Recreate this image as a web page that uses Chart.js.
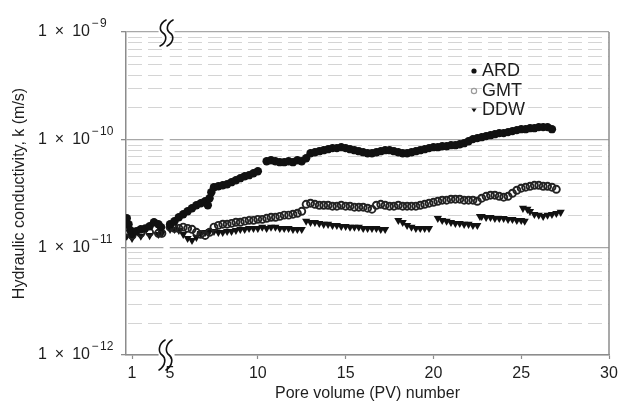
<!DOCTYPE html>
<html><head><meta charset="utf-8">
<script src="https://cdn.jsdelivr.net/npm/chart.js@4/dist/chart.umd.min.js"></script>
<style>html,body{margin:0;padding:0;background:#fff;}canvas{display:block;}</style>
</head><body>
<canvas id="c" width="619" height="403"></canvas>
<script>
// Pore volume (PV) number and hydraulic conductivity k (in units of 1e-11 m/s)
const ardPV = [0.7,0.8,0.9,1.0,1.25,1.5,1.75,2.0,2.25,2.5,2.65,
  5.0,5.25,5.5,5.75,6.0,6.25,6.5,6.75,7.0,7.15,7.25,7.35,7.5,7.75,8.0,8.25,8.5,8.75,9.0,9.25,9.5,9.75,10.0,
  10.5,10.75,11.0,11.25,11.5,11.75,12.0,12.25,12.5,12.75,
  13.0,13.25,13.5,13.75,14.0,14.25,14.5,14.75,15.0,15.25,15.5,15.75,16.0,16.25,16.5,16.75,17.0,17.25,17.5,17.75,
  18.0,18.25,18.5,18.75,19.0,19.25,19.5,19.75,20.0,20.25,20.5,20.75,21.0,21.25,21.5,21.75,22.0,22.25,22.5,22.75,
  23.0,23.25,23.5,23.75,24.0,24.25,24.5,24.75,25.0,25.25,25.5,25.75,26.0,26.25,26.5,26.75];
const ardK = [1.86,1.64,1.44,1.35,1.41,1.47,1.50,1.57,1.71,1.64,1.54,
  1.64,1.75,1.90,2.03,2.16,2.31,2.46,2.57,2.68,2.46,2.86,3.25,3.62,3.69,3.77,3.86,4.03,4.20,4.39,4.58,4.68,4.88,5.09,
  6.31,6.45,6.31,6.18,6.18,6.31,6.18,6.45,6.31,6.73,
  7.49,7.65,7.82,7.99,8.16,8.34,8.34,8.52,8.34,8.16,7.99,7.82,7.65,7.49,7.49,7.65,7.82,7.99,7.99,7.82,
  7.65,7.49,7.49,7.65,7.82,7.99,8.16,8.34,8.52,8.52,8.70,8.70,8.89,8.89,9.08,9.28,9.68,10.11,10.33,10.55,
  10.78,11.01,11.25,11.50,11.50,11.75,12.00,12.26,12.52,12.52,12.79,12.79,13.07,13.07,13.07,12.52];

const gmtPV = [0.7,1.0,1.5,2.0,2.5,2.7,
  5.0,5.25,5.5,5.75,6.0,6.25,6.5,6.75,7.0,7.25,7.5,7.75,8.0,8.25,8.5,8.75,9.0,9.25,9.5,9.75,10.0,10.25,10.5,10.75,
  11.0,11.25,11.5,11.75,12.0,12.25,12.5,12.75,13.0,13.25,13.5,13.75,14.0,14.25,14.5,14.75,15.0,15.25,15.5,15.75,
  16.0,16.25,16.5,16.75,17.0,17.25,17.5,17.75,18.0,18.25,18.5,18.75,19.0,19.25,19.5,19.75,20.0,20.25,20.5,20.75,
  21.0,21.25,21.5,21.75,22.0,22.25,22.5,22.75,23.0,23.25,23.5,23.75,24.0,24.25,24.5,24.75,25.0,25.25,25.5,25.75,
  26.0,26.25,26.5,26.75,27.0];
const gmtK = [1.41,1.29,1.35,1.38,1.35,1.35,
  1.54,1.50,1.50,1.54,1.50,1.47,1.38,1.32,1.29,1.38,1.54,1.60,1.64,1.64,1.67,1.71,1.71,1.75,1.78,1.78,1.82,1.82,1.86,1.90,
  1.90,1.94,1.99,1.99,2.03,2.07,2.16,2.51,2.57,2.51,2.46,2.46,2.46,2.41,2.41,2.46,2.41,2.41,2.36,2.36,
  2.36,2.31,2.26,2.46,2.51,2.46,2.41,2.41,2.46,2.41,2.41,2.41,2.41,2.46,2.51,2.57,2.62,2.68,2.74,2.74,
  2.80,2.80,2.80,2.74,2.74,2.74,2.68,2.86,2.98,3.05,3.05,2.98,2.92,2.98,3.18,3.39,3.54,3.62,3.69,3.77,
  3.77,3.69,3.69,3.62,3.46];

const ddwPV = [0.7,1.0,1.5,2.0,2.5,2.7,
  5.0,5.25,5.5,5.75,6.0,6.25,6.5,6.75,7.0,7.25,7.5,7.75,8.0,8.25,8.5,8.75,9.0,9.25,9.5,9.75,10.0,10.25,10.5,10.75,
  11.0,11.25,11.5,11.75,12.0,12.25,12.5,
  12.75,13.0,13.25,13.5,13.75,14.0,14.25,14.5,14.75,15.0,15.25,15.5,15.75,16.0,16.25,16.5,16.75,17.0,17.25,
  18.0,18.25,18.5,18.75,19.0,19.25,19.5,19.75,
  20.25,20.5,20.75,21.0,21.25,21.5,21.75,22.0,22.25,22.5,
  22.65,22.75,23.0,23.25,23.5,23.75,24.0,24.25,24.5,24.75,25.0,25.2,
  25.1,25.35,25.5,25.75,26.0,26.25,26.5,26.75,27.0,27.25];
const ddwK = [1.27,1.21,1.27,1.29,1.32,1.35,
  1.47,1.47,1.44,1.32,1.21,1.16,1.24,1.35,1.38,1.41,1.41,1.38,1.38,1.41,1.41,1.44,1.47,1.47,1.50,1.50,1.50,1.54,1.50,1.54,
  1.54,1.50,1.50,1.50,1.47,1.47,1.47,
  1.75,1.71,1.71,1.67,1.64,1.64,1.60,1.60,1.57,1.57,1.54,1.54,1.54,1.50,1.50,1.50,1.50,1.47,1.47,
  1.78,1.71,1.60,1.54,1.50,1.50,1.50,1.50,
  1.86,1.78,1.75,1.71,1.67,1.67,1.64,1.64,1.60,1.60,
  1.94,1.94,1.90,1.90,1.86,1.86,1.86,1.82,1.82,1.78,1.78,1.75,
  2.31,2.26,2.16,2.03,1.99,1.94,1.99,2.03,2.07,2.12];

const seriesNames = ['ARD', 'GMT', 'DDW'];
const xTickValues = [1, 5, 10, 15, 20, 25, 30];
const yTickValues = [1e-12, 1e-11, 1e-10, 1e-9];
const yTickBase = '1\u2002×\u200210';
const yTickExponents = ['\u221212', '\u221211', '\u221210', '\u22129'];
const K_UNIT = 1e-11;

// Broken x axis: PV values before the break are shifted right so 1 sits next to 5
const BREAK_PV = 4, PRE_BREAK_SHIFT = 1.835;
const toAxis = pv => pv < BREAK_PV ? pv + PRE_BREAK_SHIFT : pv;
const pts = (pv, k) => pv.map((p, i) => ({x: toAxis(p), y: k[i] * K_UNIT}));
const isMajor = v => Math.abs(Math.log10(v) - Math.round(Math.log10(v))) < 1e-6;

const FONT = "'Liberation Sans', Arial, Helvetica, sans-serif";
const AXIS_COLOR = '#8c8c8c';
const TEXT_COLOR = '#1e1e1e';
const Y_TICK_LEN = 5, Y_TICK_PAD = 31;

function drawMarker(ctx, style, x, y, r) {
  ctx.save();
  ctx.beginPath();
  if (style === 'tri') {
    ctx.moveTo(x - r, y - r * 0.6); ctx.lineTo(x + r, y - r * 0.6); ctx.lineTo(x, y + r * 0.9); ctx.closePath();
    ctx.fillStyle = '#111'; ctx.fill();
  } else if (style === 'open') {
    ctx.arc(x, y, r, 0, Math.PI * 2); ctx.strokeStyle = '#9a9a9a'; ctx.lineWidth = 1.2; ctx.stroke();
  } else {
    ctx.arc(x, y, r, 0, Math.PI * 2); ctx.fillStyle = '#111'; ctx.fill();
  }
  ctx.restore();
}

function breakMark(ctx, cx, y0, y1) {
  const h = y1 - y0;
  for (const dx of [-3.5, 3.5]) {
    const c = cx + dx;
    ctx.beginPath();
    ctx.moveTo(c + 3, y0);
    ctx.bezierCurveTo(c - 4, y0 + h * 0.15, c - 4, y0 + h * 0.4, c, y0 + h * 0.5);
    ctx.bezierCurveTo(c + 4, y0 + h * 0.6, c + 4, y0 + h * 0.85, c - 3, y1);
    ctx.stroke();
  }
}

const decor = {
  id: 'decor',
  beforeDatasetsDraw(chart) {
    const {ctx, chartArea: a, scales: {x, y}} = chart;
    ctx.save();
    ctx.strokeStyle = '#d4d4d4'; ctx.lineWidth = 1; ctx.setLineDash([14, 6]);
    for (let e = -12; e < -9; e++) {
      for (let m = 2; m <= 9; m++) {
        const py = Math.round(y.getPixelForValue(m * Math.pow(10, e))) + 0.5;
        ctx.beginPath(); ctx.moveTo(a.left + 2, py); ctx.lineTo(a.right, py); ctx.stroke();
      }
    }
    ctx.setLineDash([]);
    // gap in the grid at the axis break
    const g0 = x.getPixelForValue(4.62), g1 = x.getPixelForValue(4.98);
    ctx.fillStyle = '#fff';
    ctx.fillRect(g0, a.top + 1.5, g1 - g0, a.bottom - a.top - 3);
    // right frame line
    ctx.strokeStyle = AXIS_COLOR; ctx.lineWidth = 1.5;
    ctx.beginPath(); ctx.moveTo(a.right, a.top); ctx.lineTo(a.right, a.bottom); ctx.stroke();
    ctx.restore();
  },
  afterDraw(chart) {
    const {ctx, chartArea: a, scales: {x, y}} = chart;
    ctx.save();
    // exponents of the y tick labels (1 × 10^n)
    ctx.font = '12px ' + FONT; ctx.fillStyle = TEXT_COLOR; ctx.textBaseline = 'middle'; ctx.textAlign = 'left';
    const ex = a.left - Y_TICK_LEN - Y_TICK_PAD + 1.5;
    yTickValues.forEach((v, i) => {
      const py = y.getPixelForValue(v) - 8;
      const s = yTickExponents[i];
      ctx.fillText(s[0], ex, py);
      ctx.fillText(s.slice(1), ex + ctx.measureText(s[0]).width + 1.5, py);
    });
    // axis break marks
    const cx = x.getPixelForValue(4.8);
    ctx.fillStyle = '#fff';
    ctx.fillRect(cx - 8, a.top - 2, 16, 4);
    ctx.fillRect(cx - 8, a.bottom - 2, 16, 4);
    ctx.strokeStyle = '#111'; ctx.lineWidth = 1.6; ctx.lineCap = 'round';
    breakMark(ctx, cx, a.top - 12, a.top + 14);
    breakMark(ctx, cx - 1, a.bottom - 15, a.bottom + 15);
    // legend
    const styles = ['dot', 'open', 'tri'];
    const lx = 474, ly = [71, 91, 110];
    ctx.font = '18px ' + FONT; ctx.textBaseline = 'middle'; ctx.textAlign = 'left';
    seriesNames.forEach((n, i) => {
      drawMarker(ctx, styles[i], lx, ly[i], 2.6);
      ctx.fillStyle = TEXT_COLOR;
      ctx.fillText(n, lx + 8, ly[i]);
    });
    ctx.restore();
  }
};

Chart.defaults.font.family = FONT;
Chart.defaults.color = TEXT_COLOR;

new Chart(document.getElementById('c'), {
  type: 'scatter',
  data: {
    datasets: [
      {label: seriesNames[0], data: pts(ardPV, ardK), pointStyle: 'circle', pointRadius: 4.2,
       backgroundColor: '#111', borderColor: '#111', borderWidth: 0},
      {label: seriesNames[1], data: pts(gmtPV, gmtK), pointStyle: 'circle', pointRadius: 3.5,
       backgroundColor: 'rgba(0,0,0,0)', borderColor: '#222', borderWidth: 1.9},
      {label: seriesNames[2], data: pts(ddwPV, ddwK), pointStyle: 'triangle', rotation: 180, pointRadius: 4.7,
       backgroundColor: '#111', borderColor: '#111', borderWidth: 0}
    ]
  },
  options: {
    responsive: false, animation: false, devicePixelRatio: 1,
    layout: {padding: {top: 32, right: 10, bottom: 0, left: 0}},
    plugins: {legend: {display: false}, tooltip: {enabled: false}},
    scales: {
      x: {
        type: 'linear', min: 2.49, max: 30,
        afterBuildTicks: s => { s.ticks = xTickValues.map(v => ({value: toAxis(v)})); },
        afterFit: s => { s.height = 48; s.paddingLeft = 0; s.paddingRight = 0; },
        ticks: {
          autoSkip: false, maxRotation: 0, padding: 5, font: {size: 16}, color: TEXT_COLOR,
          callback: val => { const i = xTickValues.findIndex(v => Math.abs(toAxis(v) - val) < 1e-6); return i >= 0 ? String(xTickValues[i]) : ''; }
        },
        grid: {drawOnChartArea: false, drawTicks: true, tickLength: 4, tickColor: AXIS_COLOR, tickWidth: 1.2},
        border: {color: AXIS_COLOR, width: 1.5},
        title: {display: true, text: 'Pore volume (PV) number', font: {size: 16}, color: TEXT_COLOR, padding: {top: 0, bottom: 0}}
      },
      y: {
        type: 'logarithmic', min: 1e-12, max: 1e-9,
        afterBuildTicks: s => {
          const t = [];
          for (let e = -12; e < -9; e++) for (let m = 1; m <= 9; m++) t.push({value: m * Math.pow(10, e)});
          t.push({value: 1e-9});
          s.ticks = t;
        },
        afterFit: s => { s.width = 126; s.paddingTop = 0; s.paddingBottom = 0; },
        ticks: {
          autoSkip: false, padding: Y_TICK_PAD, font: {size: 16}, color: TEXT_COLOR,
          callback: val => (yTickValues.some(v => Math.abs(Math.log10(v) - Math.log10(val)) < 1e-6) ? yTickBase : '')
        },
        grid: {
          drawTicks: true, tickLength: Y_TICK_LEN,
          color: c => (c.tick && isMajor(c.tick.value)) ? '#a8a8a8' : 'rgba(0,0,0,0)',
          tickColor: c => (c.tick && isMajor(c.tick.value)) ? AXIS_COLOR : 'rgba(0,0,0,0)',
          lineWidth: 1.3
        },
        border: {color: AXIS_COLOR, width: 1.5},
        title: {display: true, text: 'Hydraulic conductivity, k (m/s)', font: {size: 16}, color: TEXT_COLOR, padding: {top: 10, bottom: 0}}
      }
    }
  },
  plugins: [decor]
});
</script>
</body></html>
